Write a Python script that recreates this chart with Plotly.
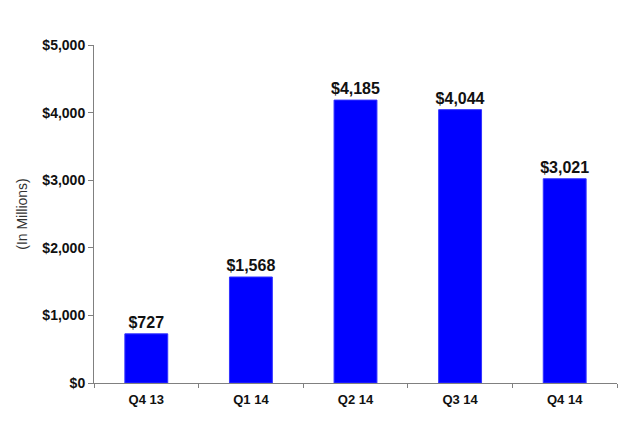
import plotly.graph_objects as go

quarters = ["Q4 13", "Q1 14", "Q2 14", "Q3 14", "Q4 14"]
values = [727, 1568, 4185, 4044, 3021]
labels = ["$727", "$1,568", "$4,185", "$4,044", "$3,021"]

fig = go.Figure(
    go.Bar(
        x=quarters,
        y=values,
        text=labels,
        textposition="outside",
        constraintext="none",
        cliponaxis=False,
        textfont=dict(family="Liberation Sans", size=16, color="#111111", weight="bold"),
        marker=dict(color="#0000ff", line=dict(color="#3333ff", width=1)),
        width=0.41,
    )
)

# page body has an 8px default margin, so the figure is shrunk to fit
fig.update_layout(
    width=628,
    height=416,
    margin=dict(l=86, r=19, t=37, b=41),
    plot_bgcolor="white",
    paper_bgcolor="white",
    showlegend=False,
    font=dict(family="Liberation Sans", color="black"),
)

fig.update_yaxes(
    range=[0, 5000],
    dtick=1000,
    tickprefix="$",
    tickformat=",d",
    showgrid=False,
    showline=True,
    linecolor="#808080",
    linewidth=1,
    ticks="outside",
    ticklen=5,
    tickcolor="#808080",
    tickfont=dict(size=14, family="Liberation Sans", weight="bold", color="#111111"),
    title=dict(text="(In Millions)", font=dict(size=14, color="#333333"), standoff=11),
    zeroline=False,
)

fig.update_xaxes(
    showline=True,
    linecolor="#808080",
    linewidth=1,
    ticks="outside",
    tickson="boundaries",
    ticklen=4,
    tickcolor="#808080",
    ticklabelstandoff=4,
    tickfont=dict(size=13, family="Liberation Sans", weight="bold", color="#111111"),
    showgrid=False,
)

fig.write_html("out.html")
